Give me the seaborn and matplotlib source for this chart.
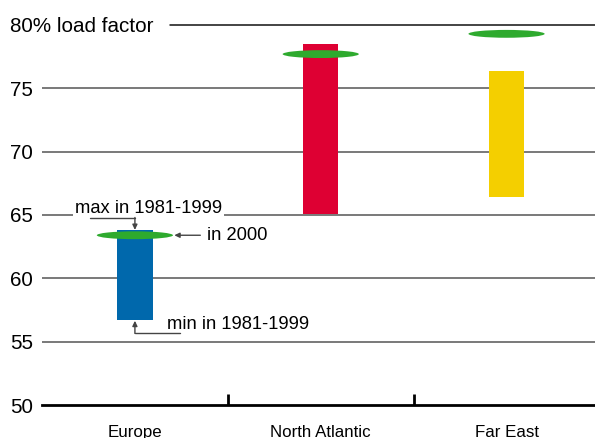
import matplotlib
matplotlib.use("Agg")
import matplotlib.pyplot as plt
from matplotlib.patches import Ellipse
import seaborn as sns
import pandas as pd

# Passenger load factor by region: range 1981-1999 and value in 2000
regions = ["Europe", "North Atlantic", "Far East"]
min_1981_1999 = [56.7, 65.1, 66.4]
max_1981_1999 = [63.8, 78.5, 76.4]
value_2000 = [63.4, 77.7, 79.3]
bar_colors = ["#0068AC", "#DE0033", "#F4CF00"]
ytick_values = [50, 55, 60, 65, 70, 75, 80]
ytick_labels = ["50", "55", "60", "65", "70", "75", "80% load factor"]

df = pd.DataFrame({
    "region": regions,
    "low": min_1981_1999,
    "high": max_1981_1999,
})
df["span"] = df["high"] - df["low"]

sns.set_theme(style="white")
plt.rcParams["font.family"] = ["Liberation Sans", "DejaVu Sans"]

fig = plt.figure(figsize=(5.95, 4.38), dpi=100)
ax = fig.add_axes([42 / 595, 33 / 438, 553 / 595, 392.7 / 438])

# floating bars: each spans the 1981-1999 minimum to maximum
sns.barplot(data=df, x="region", y="span", order=regions,
            bottom=df["low"].to_numpy(), width=0.19, ax=ax,
            color=bar_colors[0], linewidth=0, saturation=1, zorder=3)
for patch, c in zip(ax.patches, bar_colors):
    patch.set_facecolor(c)

ax.set_xlim(-0.5, 2.476)
ax.set_ylim(50, 81)

# horizontal reference lines
for v in ytick_values[1:]:
    start = 0.232 if v == 80 else 0.0
    color = "#111111" if v == 80 else "#555555"
    ax.axhline(v, xmin=start, xmax=1, color=color, lw=1.1, zorder=1)

# values in 2000 as flat green ellipses
for i, v in enumerate(value_2000):
    ax.add_patch(Ellipse((i, v), width=0.41, height=0.62, facecolor="#2EAA2E",
                         edgecolor="none", zorder=4))

# axes styling
for side in ["left", "right", "top"]:
    ax.spines[side].set_visible(False)
ax.spines["bottom"].set_color("black")
ax.spines["bottom"].set_linewidth(2)

ax.set_yticks(ytick_values)
ax.set_yticklabels(ytick_labels, fontsize=14.9, color="black")
ax.tick_params(axis="y", length=0, pad=23)
for lab in ax.get_yticklabels():
    lab.set_horizontalalignment("left")

ax.set_xticks([0.5, 1.5])
ax.set_xticklabels([])
ax.tick_params(axis="x", direction="in", length=8, width=2, color="black",
               bottom=True)
for i, name in enumerate(regions):
    ax.text(i, 48.4, name, ha="center", va="top", fontsize=12.2,
            color="black", clip_on=False)
ax.set_xlabel("")
ax.set_ylabel("")

# explanatory callouts on the Europe column
line_kw = dict(color="#444444", lw=1)
arrow_kw = dict(arrowstyle="-|>,head_length=0.25,head_width=0.12",
                color="#444444", lw=1, shrinkA=0, shrinkB=0)
ax.text(-0.325, 65.55, "max in 1981-1999", ha="left", va="center",
        fontsize=13.2, color="black", zorder=5,
        bbox=dict(facecolor="white", edgecolor="none", pad=1.5))
ax.plot([-0.24, 0.0], [64.8, 64.8], **line_kw, zorder=5)
ax.annotate("", xy=(0.0, max_1981_1999[0] + 0.02), xytext=(0.0, 64.8),
            arrowprops=arrow_kw, zorder=5)

ax.annotate("", xy=(0.212, value_2000[0]), xytext=(0.352, value_2000[0]),
            arrowprops=arrow_kw, zorder=5)
ax.text(0.39, value_2000[0], "in 2000", ha="left", va="center",
        fontsize=13.2, color="black", zorder=5)

ax.plot([0.0, 0.245], [55.65, 55.65], **line_kw, zorder=5)
ax.annotate("", xy=(0.0, min_1981_1999[0] - 0.05), xytext=(0.0, 55.65),
            arrowprops=arrow_kw, zorder=5)
ax.text(0.175, 56.35, "min in 1981-1999", ha="left", va="center",
        fontsize=13.2, color="black", zorder=5)

fig.savefig("out.png", dpi=100)
